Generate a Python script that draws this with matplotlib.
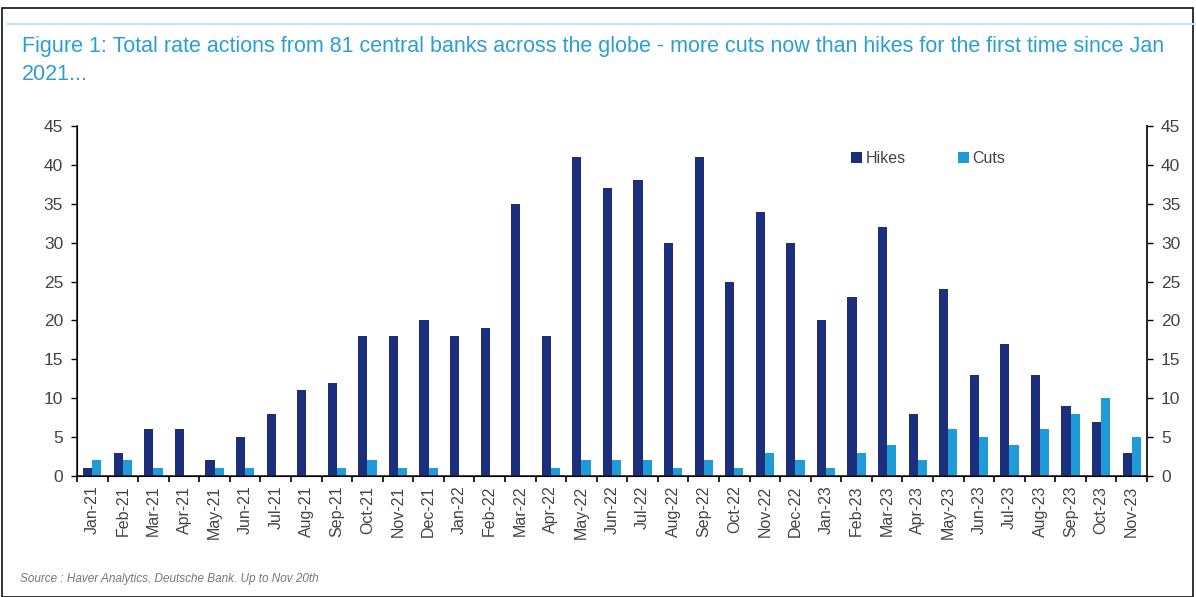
import numpy as np
import matplotlib.pyplot as plt
from matplotlib.patches import Rectangle
from matplotlib.lines import Line2D

months = ["Jan-21", "Feb-21", "Mar-21", "Apr-21", "May-21", "Jun-21", "Jul-21", "Aug-21",
          "Sep-21", "Oct-21", "Nov-21", "Dec-21", "Jan-22", "Feb-22", "Mar-22", "Apr-22",
          "May-22", "Jun-22", "Jul-22", "Aug-22", "Sep-22", "Oct-22", "Nov-22", "Dec-22",
          "Jan-23", "Feb-23", "Mar-23", "Apr-23", "May-23", "Jun-23", "Jul-23", "Aug-23",
          "Sep-23", "Oct-23", "Nov-23"]
hikes = [1, 3, 6, 6, 2, 5, 8, 11, 12, 18, 18, 20, 18, 19, 35, 18, 41, 37, 38, 30, 41, 25,
         34, 30, 20, 23, 32, 8, 24, 13, 17, 13, 9, 7, 3]
cuts = [2, 2, 1, 0, 1, 1, 0, 0, 1, 2, 1, 1, 0, 0, 0, 1, 2, 2, 2, 1, 2, 1, 3, 2, 1, 3, 4,
        2, 6, 5, 4, 6, 8, 10, 5]

navy = "#1c2f7c"
sky = "#1f9bd7"
grey = "#444444"

plt.rcParams["font.family"] = ["Liberation Sans", "DejaVu Sans"]

fig = plt.figure(figsize=(11.96, 5.97), dpi=100)
ax = fig.add_axes([77 / 1196, 1 - 476 / 597, (1147 - 77) / 1196, (476 - 126) / 597])

x = np.arange(len(months))
w = 0.3
ax.bar(x - w / 2, hikes, w, color=navy, label="Hikes")
ax.bar(x + w / 2, cuts, w, color=sky, label="Cuts")

ax.set_xlim(-0.5, len(months) - 0.5)
ax.set_ylim(0, 45)
ax.set_yticks(range(0, 46, 5))
ax.set_xticks(x)
ax.set_xticklabels(months, rotation=90, fontsize=11.5, color=grey)
ax.set_xticks(np.arange(-0.5, len(months)), minor=True)
ax.tick_params(axis="x", which="major", length=0, pad=7)
ax.tick_params(axis="x", which="minor", length=4, width=1.2, direction="out")
ax.tick_params(axis="y", labelsize=12.5, labelcolor=grey, length=4, width=1, pad=6)
ax.spines["top"].set_visible(False)
for s in ["left", "right", "bottom"]:
    ax.spines[s].set_linewidth(1.2)
    ax.spines[s].set_color("#222222")

ax2 = ax.twinx()
ax2.set_ylim(0, 45)
ax2.set_yticks(range(0, 46, 5))
ax2.tick_params(axis="y", labelsize=12.5, labelcolor=grey, length=4, width=1, pad=6)
ax2.spines["top"].set_visible(False)
ax2.spines["right"].set_linewidth(1.2)
ax2.spines["right"].set_color("#222222")

ax.legend(loc="upper left", bbox_to_anchor=(0.71, 0.97), ncol=2, frameon=False,
          fontsize=11.5, handlelength=0.7, handleheight=0.7, handletextpad=0.2,
          columnspacing=3.3, labelcolor=grey)

fig.text(22 / 1196, 1 - 36 / 597,
         "Figure 1: Total rate actions from 81 central banks across the globe - more cuts now than hikes for the first time since Jan\n2021...",
         fontsize=15.5, color="#2a9fd2", va="top", linespacing=1.45)
fig.text(20 / 1196, 1 - 582 / 597, "Source : Haver Analytics, Deutsche Bank. Up to Nov 20th",
         fontsize=8.5, color="#777777", style="italic", va="baseline")

fig.add_artist(Line2D([8 / 1196, 1.0], [1 - 24 / 597] * 2, color="#bfe3f3", lw=1.5))
fig.add_artist(Rectangle((2 / 1196, 0), 1191 / 1196, 1 - 8 / 597, fill=False,
                         edgecolor="#111111", lw=1.2, transform=fig.transFigure))

fig.savefig("out.png", dpi=100)
